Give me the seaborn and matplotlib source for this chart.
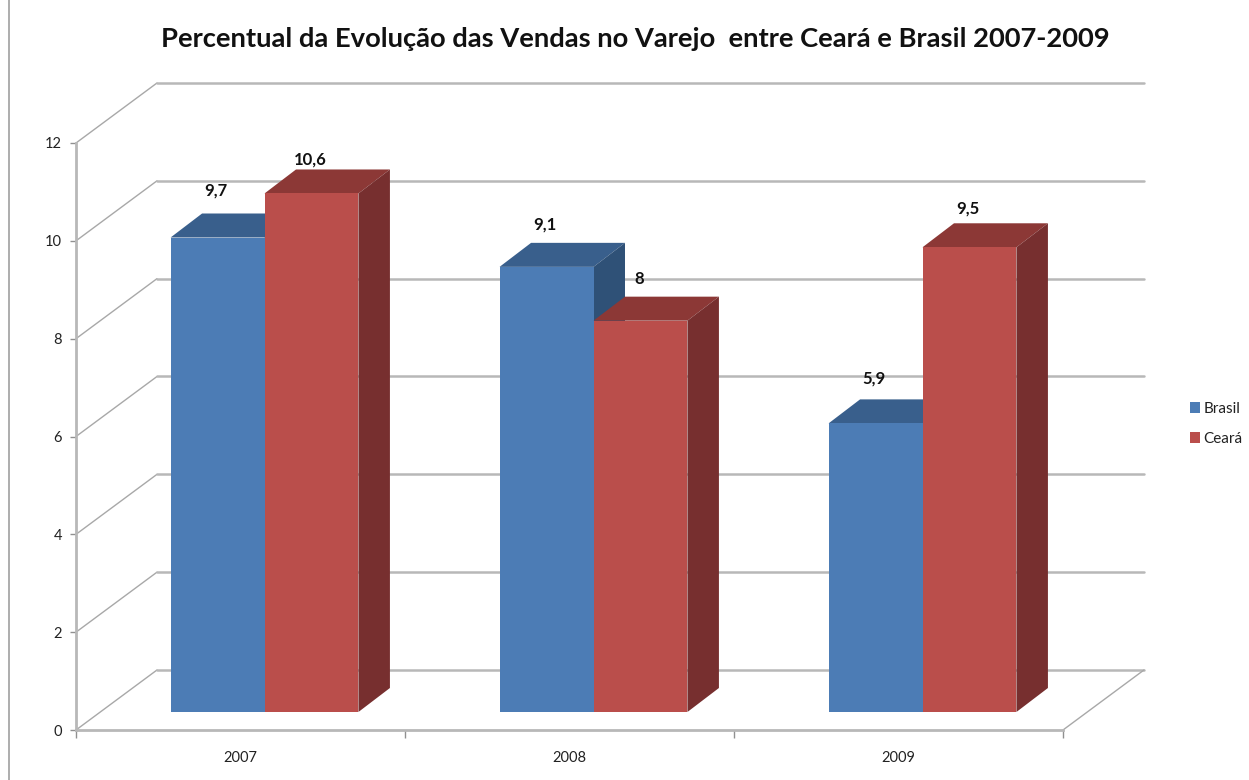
import matplotlib
matplotlib.use("Agg")
import matplotlib.pyplot as plt
from matplotlib.patches import Polygon
import pandas as pd
import seaborn as sns

# dados do grafico
anos = ["2007", "2008", "2009"]
brasil = [9.7, 9.1, 5.9]
ceara = [10.6, 8, 9.5]
rotulos_brasil = ["9,7", "9,1", "5,9"]
rotulos_ceara = ["10,6", "8", "9,5"]
ticks_y = [0, 2, 4, 6, 8, 10, 12]

# deslocamento vertical de cada rotulo acima da barra (px)
offset_brasil = [47, 42, 45]
offset_ceara = [34, 42, 39]

W, H = 1249, 780
COR_GRADE = "#b8b8b8"
AZUL, AZUL_TOPO, AZUL_LADO = "#4c7cb5", "#395f8c", "#2f5177"
VERM, VERM_TOPO, VERM_LADO = "#ba4e4b", "#8c3836", "#772f2f"

sns.set_theme(style="white")
plt.rcParams["font.family"] = ["Lato", "DejaVu Sans"]


def caixa(esq, topo, dir_, base):
    # retangulo em pixels da imagem -> coordenadas da figura
    return [esq / W, 1 - base / H, (dir_ - esq) / W, (base - topo) / H]


fig = plt.figure(figsize=(W / 100, H / 100), dpi=100, facecolor="white")

# moldura frontal: eixos, ticks e grade em "perspectiva"
ax = fig.add_axes(caixa(76, 143, 1063, 730))
ax.set_xlim(-0.5, 2.5)
ax.set_ylim(0, 12)
fund_x = 81 / 329
fund_y = 60 / 48.9

for v in ticks_y:
    ax.plot([-0.5, -0.5 + fund_x], [v, v + fund_y], color="#a8a8a8", lw=1, clip_on=False)
    ax.plot([-0.5 + fund_x, 2.5 + fund_x], [v + fund_y, v + fund_y], color=COR_GRADE, lw=1.8, clip_on=False)
ax.plot([2.5, 2.5 + fund_x], [0, fund_y], color="#a8a8a8", lw=1, clip_on=False)

sns.despine(ax=ax)
for lado in ["left", "bottom"]:
    ax.spines[lado].set_color(COR_GRADE)
    ax.spines[lado].set_linewidth(2)
ax.set_yticks(ticks_y)
ax.set_xticks([-0.5, 0.5, 1.5, 2.5], labels=[])
ax.set_xticks([0, 1, 2], labels=anos, minor=True)
ax.tick_params(axis="y", left=True, length=4, width=1, color="#909090", labelsize=10.5, labelcolor="#222222", pad=6)
ax.tick_params(axis="x", which="major", bottom=True, length=6, width=1, color="#909090")
ax.tick_params(axis="x", which="minor", bottom=False, length=0, labelsize=10.5, labelcolor="#222222", pad=15)
ax.set_facecolor("none")

# barras: mesmo eixo, deslocado para dentro da profundidade
df = pd.DataFrame({
    "ano": anos * 2,
    "valor": brasil + ceara,
    "serie": ["Brasil"] * 3 + ["Ceará"] * 3,
})
ax2 = fig.add_axes(caixa(100, 125, 1087, 712))
sns.barplot(data=df, x="ano", y="valor", hue="serie", palette=[AZUL, VERM], width=0.571, gap=0,
            saturation=1, linewidth=0, ax=ax2)
ax2.set_xlim(-0.5, 2.5)
ax2.set_ylim(0, 12)
ax2.set_facecolor("none")
ax2.axis("off")
handles, labels = ax2.get_legend_handles_labels()
ax2.get_legend().remove()

prof_x = 31.5 / 329
prof_y = 24 / 48.9

# faces de cima e do lado de cada barra
for container, topo_c, lado_c, z in zip(ax2.containers, [AZUL_TOPO, VERM_TOPO], [AZUL_LADO, VERM_LADO], [3, 5]):
    for bar in container:
        x0, x1 = bar.get_x(), bar.get_x() + bar.get_width()
        h = bar.get_height()
        bar.set_zorder(z + 1)
        ax2.add_patch(Polygon([(x0, h), (x1, h), (x1 + prof_x, h + prof_y), (x0 + prof_x, h + prof_y)],
                              facecolor=topo_c, edgecolor="none", zorder=z, clip_on=False))
        ax2.add_patch(Polygon([(x1, 0), (x1 + prof_x, prof_y), (x1 + prof_x, h + prof_y), (x1, h)],
                              facecolor=lado_c, edgecolor="none", zorder=z, clip_on=False))

# rotulos de dados
for container, rotulos, offs in zip(ax2.containers, [rotulos_brasil, rotulos_ceara], [offset_brasil, offset_ceara]):
    for bar, txt, off in zip(container, rotulos, offs):
        ax2.annotate(txt, (bar.get_x() + bar.get_width() / 2, bar.get_height()),
                     xytext=(-1, off * 0.72), textcoords="offset points", ha="center", va="center",
                     fontsize=12, fontweight="bold", color="#111111", zorder=10, annotation_clip=False)

fig.text(635 / W, 1 - 39 / H, "Percentual da Evolução das Vendas no Varejo  entre Ceará e Brasil 2007-2009",
         ha="center", va="center", fontsize=19.7, fontweight="bold", color="#111111")

leg = fig.legend(handles, labels, loc="center left", bbox_to_anchor=(1176 / W, 1 - 424 / H), frameon=False,
                 fontsize=11, handlelength=0.7, handleheight=0.7, handletextpad=0.2, labelspacing=1.05,
                 labelcolor="#222222")

# borda esquerda da area do grafico
fig.add_artist(plt.Line2D([9 / W, 9 / W], [0, 1], color="#a0a0a0", lw=1.2))

fig.savefig("out.png", dpi=100)
